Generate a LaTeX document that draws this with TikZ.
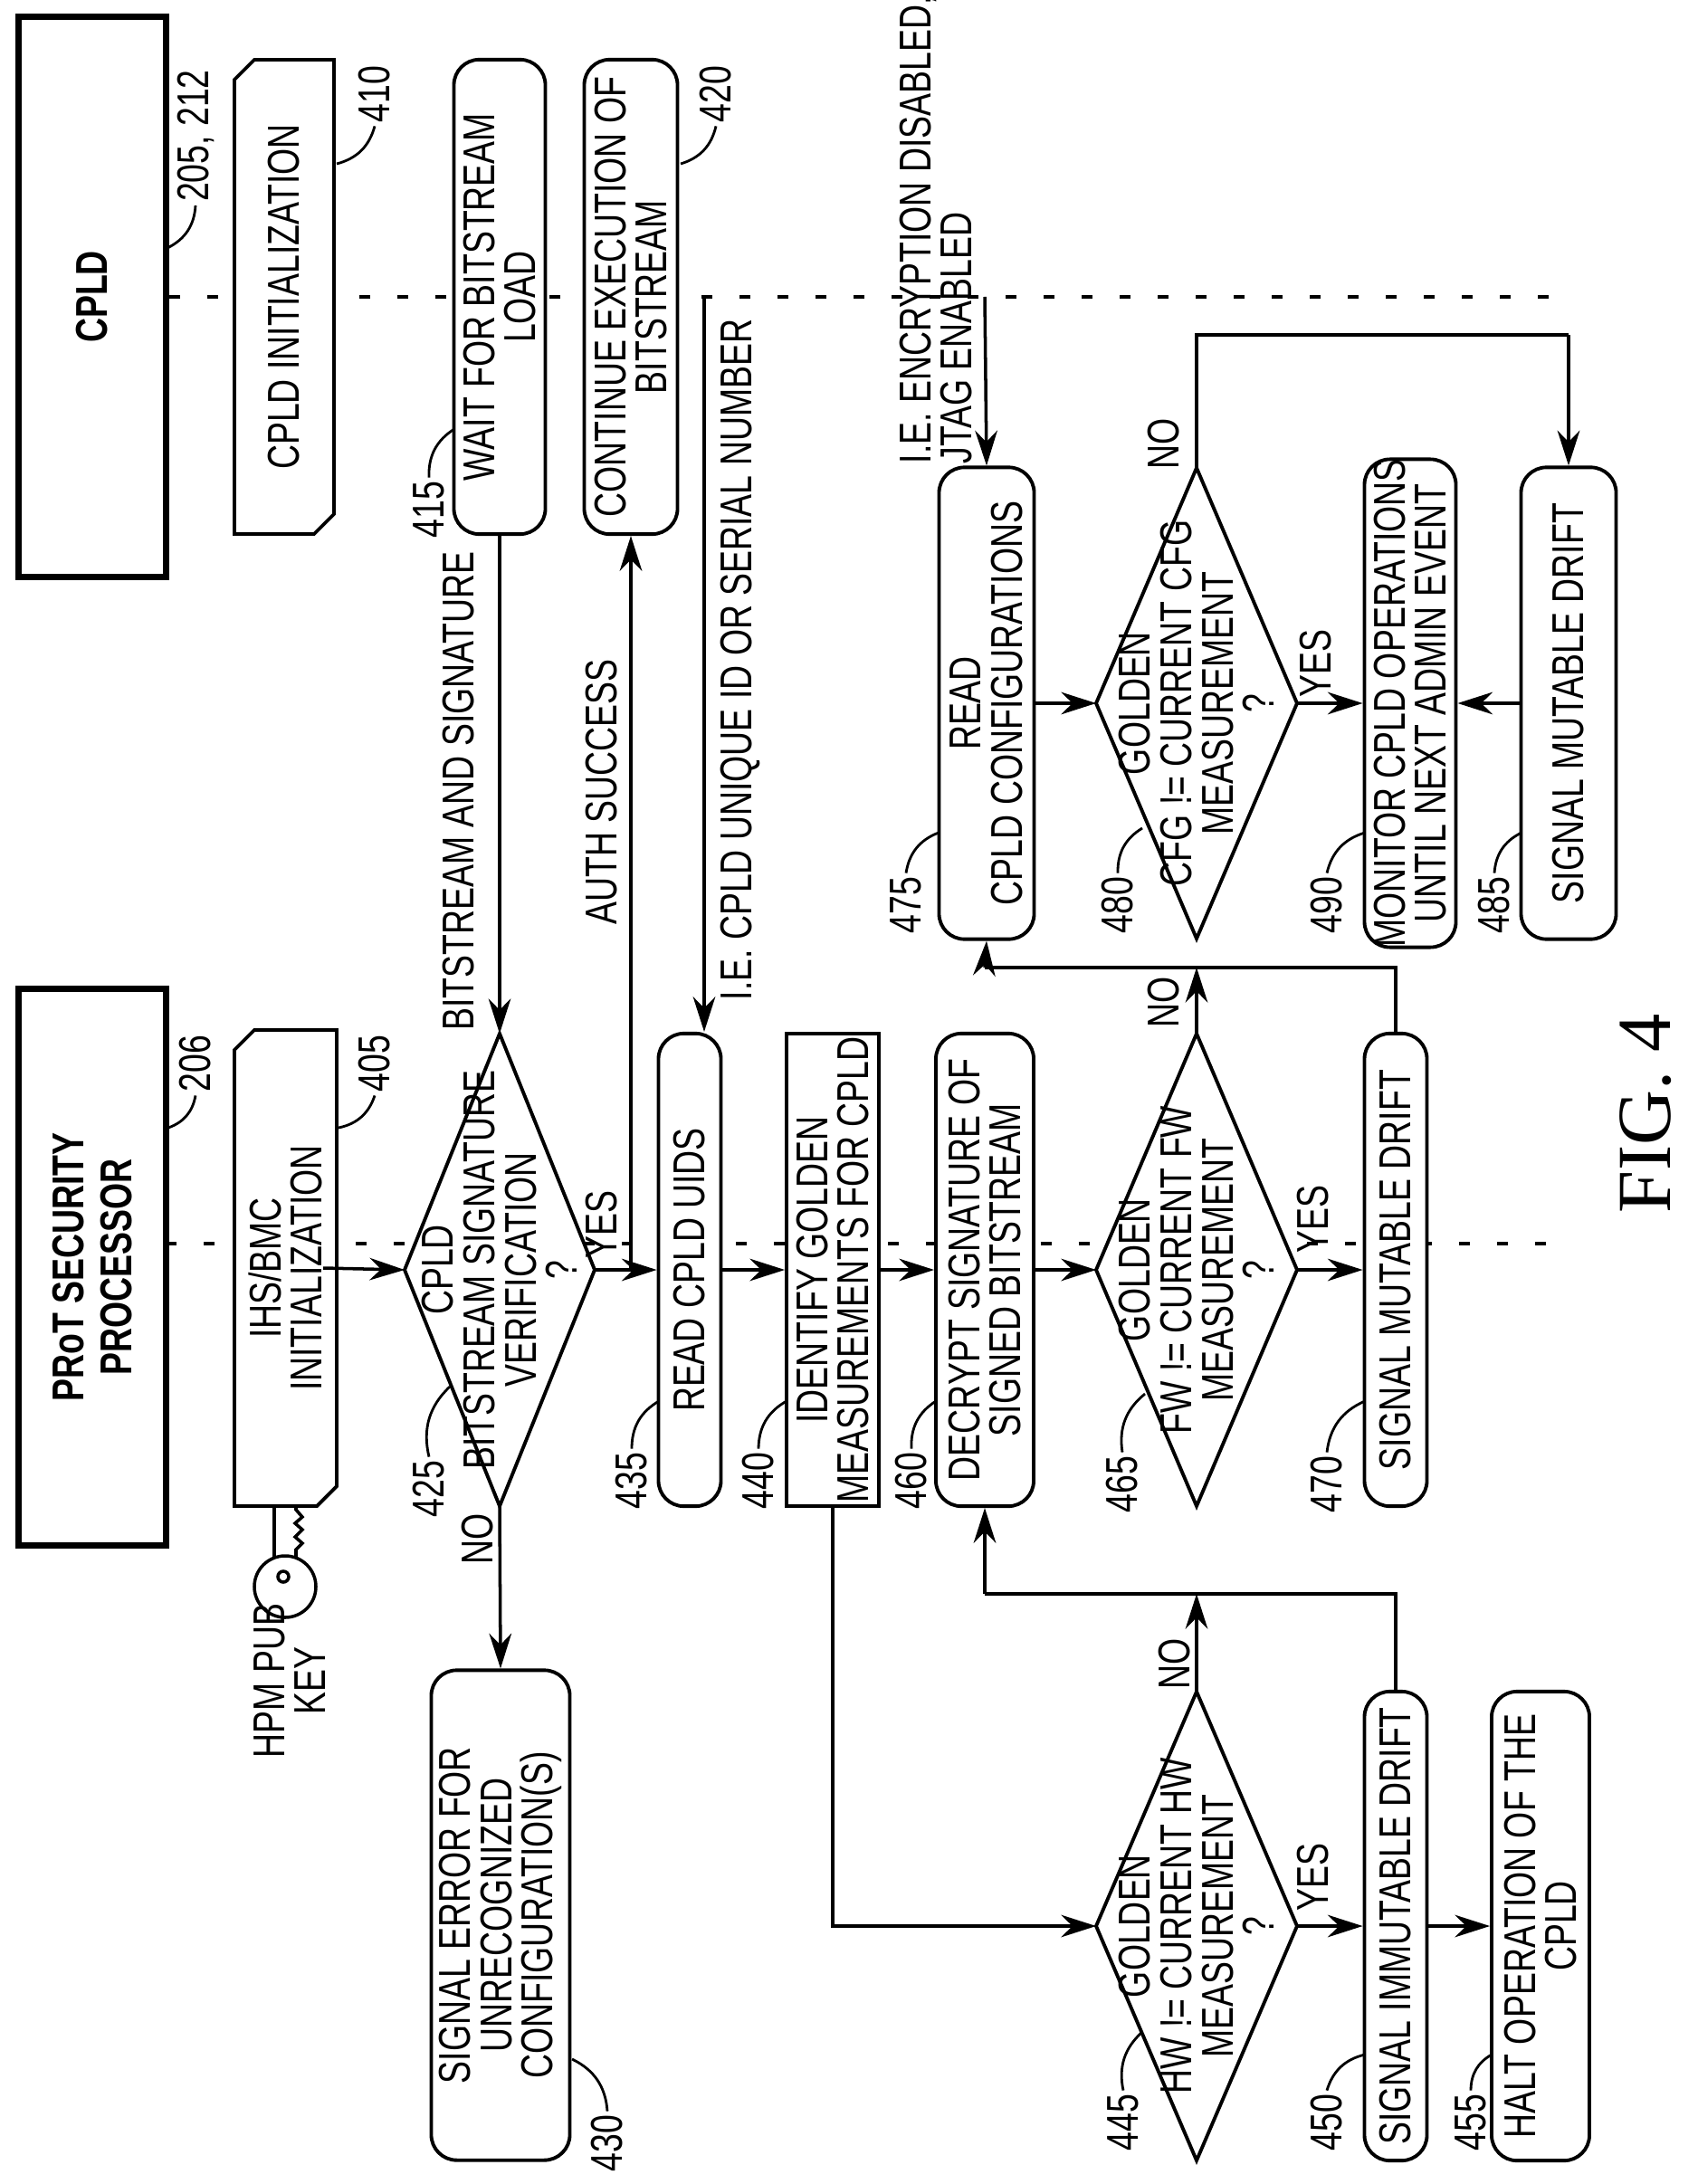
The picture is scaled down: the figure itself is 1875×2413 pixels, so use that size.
\documentclass[tikz,border=0pt]{standalone}
\usepackage{fontspec}
\setmainfont{Liberation Sans}[FakeStretch=0.76]
\newfontfamily\figserif{Liberation Serif}
\usetikzlibrary{arrows.meta}
\newcommand\mydia[5]{%
  \coordinate (#1-l) at ({#2-#4},#3);
  \coordinate (#1-r) at ({#2+#4},#3);
  \coordinate (#1-t) at (#2,{#3-#5});
  \coordinate (#1-b) at (#2,{#3+#5});
  \draw[shp] (#1-l)--(#1-t)--(#1-r)--(#1-b)--cycle;}
\newcommand\mycut[6]{%
  \draw[shp] ({#2+22},#3)--(#4,#3)--(#4,{#5-22})--({#4-22},#5)--(#2,#5)--(#2,{#3+22})--cycle;
  \node[txt] (#1) at ({(#2+#4)/2},{(#3+#5)/2}) {#6};}
\begin{document}
\begin{tikzpicture}[x=0.01cm,y=-0.01cm,
  font=\fontsize{14}{13}\selectfont,
  shp/.style={draw,fill=white,line width=1.1pt},
  box/.style={draw,fill=white,line width=1.1pt,rotate=90,align=center,rounded corners=8pt,inner sep=0pt},
  txt/.style={rotate=90,align=center,inner sep=0pt},
  arr/.style={line width=1pt,-{Stealth[length=11pt,width=7pt]}},
  ln/.style={line width=1pt},
  dsh/.style={line width=1pt,dash pattern=on 0.12cm off 0.3cm},
  lead/.style={line width=0.8pt},
  num/.style={rotate=90,inner sep=1pt}]
\useasboundingbox (0,0) rectangle (1875,2413);
% lifelines
\node[draw,line width=2pt,rotate=90,minimum width=6.18cm,minimum height=1.62cm,font=\fontsize{14}{13}\selectfont\bfseries] (cpld) at (102,328) {CPLD};
\node[draw,line width=2pt,rotate=90,minimum width=6.15cm,minimum height=1.62cm,align=center,font=\fontsize{14}{15}\selectfont\bfseries] (prot) at (102,1400) {PRoT SECURITY\\PROCESSOR};
\coordinate (cend) at (1735,328);
\draw[dsh] (cpld.south) -- (cend);
\coordinate (pst) at (183,1374);
\coordinate (pend) at (1732,1374);
\draw[dsh] (pst) -- (pend);
% key
\draw[ln,fill=white] (303,1660) -- (303,1722) -- (327,1722) -- (327,1712) -- (334,1705) -- (326,1698) -- (334,1690) -- (326,1683) -- (334,1676) -- (327,1668) -- (327,1660);
\draw[ln,fill=white] (315,1753) circle[radius=34];
\draw[ln] (313,1742) circle[radius=6];
\node[txt] (hpm) at (320,1857) {HPM PUB\\KEY};
% cut-corner nodes
\mycut{n405}{259}{1138}{372}{1664}{IHS/BMC\\INITIALIZATION}
\mycut{n410}{259}{66}{369}{590}{CPLD INITIALIZATION}
% boxes
\node[box,minimum width=5.24cm,minimum height=1.01cm] (n415) at (552,328) {WAIT FOR BITSTREAM\\LOAD};
\node[box,minimum width=5.24cm,minimum height=1.03cm] (n420) at (697,328) {CONTINUE EXECUTION OF\\BITSTREAM};
\mydia{d425}{552}{1403}{105}{261}
\node[txt] at (552,1403) {CPLD\\BITSTREAM SIGNATURE\\VERIFICATION\\?};
\node[box,minimum width=5.41cm,minimum height=1.53cm] (n430) at (553,2116) {SIGNAL ERROR FOR\\UNRECOGNIZED\\CONFIGURATION(S)};
\node[box,minimum width=5.22cm,minimum height=0.69cm] (n435) at (762,1403) {READ CPLD UIDS};
\node[box,rounded corners=0pt,minimum width=5.22cm,minimum height=1.02cm] (n440) at (920,1403) {IDENTIFY GOLDEN\\MEASUREMENTS FOR CPLD};
\node[box,minimum width=5.22cm,minimum height=1.08cm] (n460) at (1088,1403) {DECRYPT SIGNATURE OF\\SIGNED BITSTREAM};
\mydia{d465}{1322}{1403}{111}{261}
\node[txt] at (1322,1403) {GOLDEN\\FW != CURRENT FW\\MEASUREMENT\\?};
\node[box,minimum width=5.22cm,minimum height=0.69cm] (n470) at (1542,1403) {SIGNAL MUTABLE DRIFT};
\mydia{d445}{1322}{2128}{111}{259}
\node[txt] at (1322,2128) {GOLDEN\\HW != CURRENT HW\\MEASUREMENT\\?};
\node[box,minimum width=5.18cm,minimum height=0.69cm] (n450) at (1542,2128) {SIGNAL IMMUTABLE DRIFT};
\node[box,minimum width=5.18cm,minimum height=1.08cm] (n455) at (1702,2128) {HALT OPERATION OF THE\\CPLD};
\node[box,minimum width=5.21cm,minimum height=1.05cm] (n475) at (1090,777) {READ\\CPLD CONFIGURATIONS};
\mydia{d480}{1322}{777}{111}{260}
\node[txt] at (1322,777) {GOLDEN\\CFG != CURRENT CFG\\MEASUREMENT\\?};
\node[box,minimum width=5.21cm,minimum height=1.01cm] (n490) at (1558,777) {MONITOR CPLD OPERATIONS\\UNTIL NEXT ADMIN EVENT};
\node[box,minimum width=5.21cm,minimum height=1.05cm] (n485) at (1733,777) {SIGNAL MUTABLE DRIFT};
% connectors
\draw[arr] (n415.west) -- (d425-t);
\node[txt] at (507,874) {BITSTREAM AND SIGNATURE};
\draw[arr] (n405.south) -- (d425-l);
\draw[arr] (d425-r) -- (n435.north);
\coordinate (auth) at (697,1403);
\draw[arr] (auth) -- (n420.west);
\node[txt] at (665,875) {AUTH SUCCESS};
\coordinate (uid) at (778,328);
\draw[arr] (uid) -- (uid |- n435.east);
\node[txt] at (818,729) {I.E. CPLD UNIQUE ID OR SERIAL NUMBER};
\node[txt] at (665,1353) {YES};
\draw[arr] (d425-b) -- (n430.east);
\node[txt] at (528,1700) {NO};
\draw[arr] (n435.south) -- (n440.north);
\draw[arr] (n440.south) -- (n460.north);
\draw[arr] (n460.south) -- (d465-l);
\draw[arr] (d465-r) -- (n470.north);
\node[txt] at (1451,1347) {YES};
\node[txt] at (1286,1107) {NO};
\draw[arr] (n440.west) |- (d445-l);
\draw[arr] (d445-r) -- (n450.north);
\node[txt] at (1451,2074) {YES};
\draw[arr] (n450.south) -- (n455.north);
\coordinate (j1) at (1088,1761);
\draw[ln] (n450.east) |- (j1);
\draw[arr] (j1) -- (n460.west);
\draw[arr] (d445-t) -- (d445-t |- j1);
\node[txt] at (1298,1838) {NO};
\coordinate (j2) at (1088,1069);
\draw[ln] (n470.east) |- (j2);
\draw[arr] (j2) -- (n475.west);
\draw[arr] (d465-t) -- (d465-t |- j2);
\coordinate (enc) at (1088,328);
\draw[arr] (enc) -- (n475.east);
\node[txt,anchor=south,align=left] at (1034,513) {};
\node[rotate=90,anchor=west,align=left,inner sep=0pt] at (1034,513) {I.E. ENCRYPTION DISABLED,\\JTAG ENABLED};
\draw[arr] (n475.south) -- (d480-l);
\draw[arr] (d480-r) -- (n490.north);
\node[txt] at (1454,733) {YES};
\draw[arr] (n485.north) -- (n490.south);
\coordinate (j3) at (1733,370);
\draw[ln] (d480-t) |- (j3);
\draw[arr] (j3) -- (n485.east);
\node[txt] at (1286,490) {NO};
% reference numbers
\node[num] (l205) at (216,150) {205, 212}; \draw[lead] (185,274) to[bend right=30] (l205.west);
\node[num] (l410) at (414,104) {410}; \draw[lead] (372,181) to[bend right=30] (l410.west);
\node[num] (l415) at (474,563) {415}; \draw[lead] (502,474) to[bend right=30] (l415.east);
\node[num] (l420) at (791,104) {420}; \draw[lead] (752,181) to[bend right=30] (l420.west);
\node[num] (l206) at (216,1175) {206}; \draw[lead] (186,1246) to[bend right=30] (l206.west);
\node[num] (l405) at (414,1175) {405}; \draw[lead] (374,1246) to[bend right=30] (l405.west);
\node[num] (l425) at (474,1645) {425}; \draw[lead] (497,1532) to[bend right=30] (l425.east);
\node[num] (l435) at (698,1636) {435}; \draw[lead] (728,1548) to[bend right=30] (l435.east);
\node[num] (l440) at (838,1636) {440}; \draw[lead] (869,1548) to[bend right=30] (l440.east);
\node[num] (l460) at (1007,1636) {460}; \draw[lead] (1034,1548) to[bend right=30] (l460.east);
\node[num] (l465) at (1240,1640) {465}; \draw[lead] (1265,1540) to[bend right=30] (l465.east);
\node[num] (l470) at (1466,1640) {470}; \draw[lead] (1508,1548) to[bend right=30] (l470.east);
\node[num] (l445) at (1241,2345) {445}; \draw[lead] (1262,2245) to[bend right=30] (l445.east);
\node[num] (l450) at (1466,2345) {450}; \draw[lead] (1508,2270) to[bend right=30] (l450.east);
\node[num] (l455) at (1625,2345) {455}; \draw[lead] (1648,2270) to[bend right=30] (l455.east);
\node[num] (l430) at (671,2368) {430}; \draw[lead] (632,2275) to[bend left=30] (l430.east);
\node[num] (l475) at (1001,1000) {475}; \draw[lead] (1037,920) to[bend right=30] (l475.east);
\node[num] (l480) at (1235,1000) {480}; \draw[lead] (1262,915) to[bend right=30] (l480.east);
\node[num] (l490) at (1466,1000) {490}; \draw[lead] (1508,920) to[bend right=30] (l490.east);
\node[num] (l485) at (1651,1000) {485}; \draw[lead] (1681,920) to[bend right=30] (l485.east);
\node[rotate=90,font=\figserif\fontsize{24}{24}\selectfont] (fig) at (1818,1230) {FIG. 4};
\end{tikzpicture}
\end{document}
